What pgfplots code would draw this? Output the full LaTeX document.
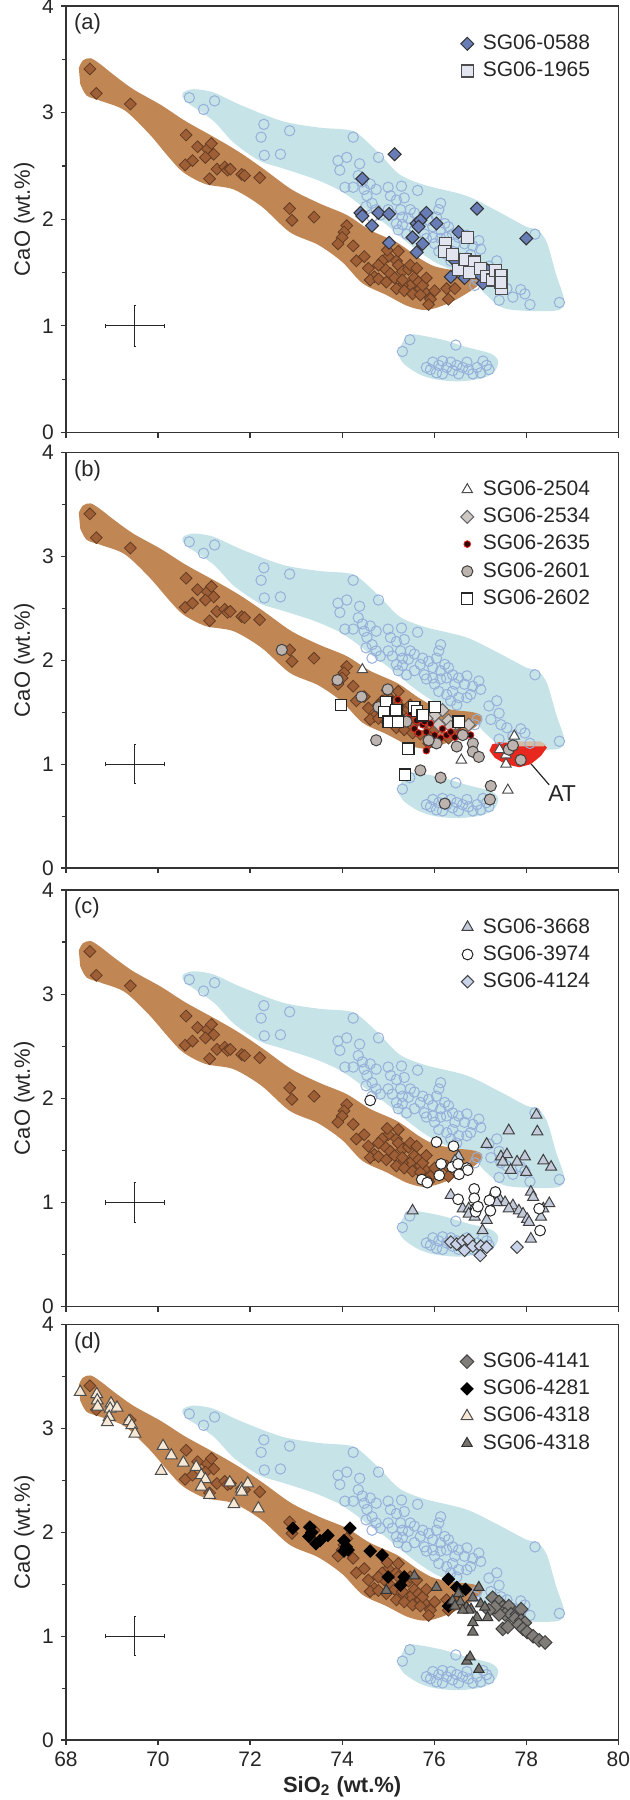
\documentclass[border=0pt]{standalone}
\usepackage{pgfplots}
\pgfplotsset{compat=1.18}
\usepackage{pgfplotstable}
\usepackage{fontspec}
\setmainfont{Liberation Sans}

\definecolor{bluefill}{RGB}{198,227,232}
\definecolor{blueedge}{RGB}{150,176,218}
\definecolor{brownfill}{RGB}{192,134,84}
\definecolor{browndia}{RGB}{158,94,54}
\definecolor{brownedge}{RGB}{100,60,35}
\definecolor{c0588}{RGB}{104,124,182}
\definecolor{c1965}{RGB}{226,229,240}
\definecolor{c2534}{RGB}{205,200,195}
\definecolor{c2635}{RGB}{45,10,8}
\definecolor{c2601}{RGB}{190,180,175}
\definecolor{c3668}{RGB}{195,202,218}
\definecolor{c4124}{RGB}{200,210,232}
\definecolor{c4141}{RGB}{128,124,120}
\definecolor{c4318a}{RGB}{246,232,212}
\definecolor{c4318b}{RGB}{118,114,110}
\definecolor{atred}{RGB}{232,40,30}
\definecolor{atbeige}{RGB}{212,188,165}

% ---------- background fields ----------
\pgfplotstableread{
x y
70.53 3.15
70.55 3.19
70.77 3.22
71.20 3.19
71.80 3.07
72.70 2.92
73.50 2.86
74.10 2.84
74.35 2.80
74.80 2.62
75.25 2.42
75.80 2.32
76.70 2.22
77.40 2.07
78.00 1.93
78.25 1.90
78.45 1.78
78.65 1.48
78.82 1.25
78.72 1.15
78.10 1.14
77.49 1.17
77.06 1.32
76.79 1.47
76.36 1.53
76.01 1.60
75.66 1.70
75.31 1.82
74.96 1.95
74.61 2.06
74.26 2.18
73.91 2.28
73.39 2.38
72.69 2.48
72.20 2.55
71.64 2.72
71.21 2.92
70.68 3.08
}\bluebig

\pgfplotstableread{
x y
75.22 0.77
75.40 0.90
75.57 0.92
76.18 0.87
76.71 0.80
77.23 0.74
77.39 0.67
77.32 0.58
77.06 0.51
76.53 0.48
76.01 0.50
75.66 0.55
75.35 0.64
75.24 0.71
}\bluesmall

\pgfplotstableread{
x y
68.28 3.42
68.37 3.49
68.54 3.51
68.76 3.45
69.02 3.36
69.46 3.22
70.07 3.07
70.60 2.92
71.30 2.75
71.80 2.62
72.30 2.47
72.90 2.28
73.50 2.15
74.10 2.04
74.60 1.90
75.20 1.78
75.66 1.64
76.00 1.56
76.45 1.52
76.84 1.50
77.04 1.46
76.93 1.37
76.45 1.24
76.05 1.17
75.75 1.15
75.40 1.19
74.96 1.29
74.44 1.40
74.00 1.60
73.48 1.76
72.86 1.88
72.25 2.12
71.64 2.28
71.03 2.33
70.55 2.44
70.24 2.58
69.81 2.80
69.28 3.02
68.76 3.11
68.45 3.16
68.31 3.27
}\brownpoly

\pgfplotstableread{
x y
70.68 3.14
70.99 3.03
71.23 3.11
72.30 2.89
72.24 2.77
72.86 2.83
72.31 2.60
72.66 2.61
74.24 2.77
73.91 2.55
74.10 2.58
73.95 2.46
74.38 2.52
74.79 2.58
74.35 2.41
74.06 2.30
74.24 2.30
74.44 2.35
74.61 2.33
74.74 2.28
74.48 2.28
74.54 2.22
74.65 2.15
74.52 2.12
74.74 2.09
74.65 2.02
74.83 2.04
75.00 2.30
75.05 2.22
75.29 2.31
75.64 2.27
75.18 2.18
75.27 2.09
75.35 2.20
75.48 2.09
75.00 2.09
75.09 2.04
75.18 1.96
75.31 2.02
75.44 2.01
75.57 2.06
75.75 2.02
75.70 1.96
75.88 1.99
75.97 1.93
76.14 2.15
76.10 2.09
76.05 2.02
76.23 1.96
76.14 1.90
76.31 1.93
76.40 1.86
76.27 1.83
76.53 1.83
76.71 1.85
76.45 1.77
76.66 1.77
76.84 1.75
76.97 1.80
77.01 1.72
76.01 1.77
76.10 1.70
76.27 1.67
76.40 1.70
76.53 1.64
76.71 1.64
76.79 1.67
75.79 1.86
75.57 1.90
75.40 1.86
75.22 1.90
75.83 1.82
75.97 1.83
76.14 1.82
75.31 1.95
77.19 1.56
77.36 1.61
77.41 1.49
77.23 1.43
77.45 1.38
77.41 1.24
77.71 1.27
77.58 1.35
77.88 1.34
77.97 1.30
78.08 1.20
78.19 1.86
78.72 1.22
76.88 1.38
76.93 1.43
76.36 1.61
76.49 1.57
75.31 0.76
75.47 0.87
76.47 0.82
75.83 0.61
75.97 0.66
76.10 0.63
76.18 0.67
76.27 0.61
76.36 0.66
76.40 0.58
76.49 0.63
76.53 0.55
76.62 0.61
76.71 0.66
76.75 0.59
76.84 0.55
76.93 0.61
77.01 0.56
77.06 0.67
77.14 0.63
76.05 0.56
76.18 0.55
77.19 0.59
75.92 0.59
}\bluepts

\pgfplotstableread{
x y
68.52 3.41
68.66 3.18
69.40 3.08
70.61 2.79
70.86 2.68
71.07 2.66
71.16 2.71
71.21 2.61
70.59 2.51
70.75 2.55
71.03 2.58
71.12 2.38
71.28 2.47
71.45 2.49
71.51 2.46
71.57 2.47
71.82 2.42
71.88 2.41
72.21 2.39
72.86 2.10
72.91 1.99
73.39 2.02
74.10 1.94
74.04 1.88
74.00 1.83
73.91 1.77
74.24 1.75
74.31 1.61
74.48 1.65
74.57 1.54
74.70 1.46
74.61 1.43
74.79 1.44
75.00 1.65
74.98 1.71
75.18 1.61
74.92 1.54
75.05 1.49
75.14 1.45
75.22 1.57
75.31 1.51
75.44 1.53
75.48 1.38
75.57 1.45
75.66 1.41
75.70 1.35
75.79 1.32
75.92 1.25
75.88 1.20
76.01 1.33
76.27 1.35
76.31 1.25
76.45 1.35
75.31 1.38
74.96 1.41
75.18 1.35
75.35 1.33
75.53 1.30
75.70 1.29
75.75 1.38
75.83 1.45
75.22 1.70
75.48 1.57
75.62 1.54
74.87 1.61
74.79 1.57
75.31 1.43
}\brownpts

% ---------- samples ----------
\pgfplotstableread{
x y
75.14 2.61
74.44 2.38
74.40 2.06
74.44 2.03
74.79 2.06
75.02 2.05
74.65 1.94
75.02 1.78
75.53 1.83
75.62 1.96
75.70 1.99
75.66 1.93
75.83 2.06
76.05 1.96
75.75 1.77
75.62 1.69
76.53 1.88
76.93 2.10
76.45 1.61
76.36 1.46
76.66 1.45
76.99 1.48
77.16 1.52
77.06 1.40
78.00 1.82
}\sA

\pgfplotstableread{
x y
76.73 1.83
76.24 1.77
76.22 1.70
76.40 1.67
76.53 1.53
76.67 1.62
76.88 1.60
76.76 1.50
77.00 1.54
77.14 1.46
77.27 1.43
77.33 1.52
77.45 1.47
77.46 1.35
77.45 1.41
}\sB

\pgfplotstableread{
x y
74.44 1.91
75.70 1.35
75.97 1.41
76.27 1.33
76.59 1.04
77.42 1.14
77.56 1.09
77.56 1.00
77.74 1.27
77.60 0.75
}\sC

\pgfplotstableread{
x y
76.18 1.52
76.01 1.47
76.31 1.42
76.49 1.39
76.75 1.38
76.36 1.36
76.10 1.38
75.83 1.44
}\sD

\pgfplotstableread{
x y
75.21 1.62
75.48 1.47
75.62 1.42
75.70 1.49
75.75 1.38
75.57 1.34
75.83 1.31
75.92 1.39
76.01 1.28
76.14 1.25
76.27 1.28
76.36 1.31
76.45 1.26
76.57 1.30
76.71 1.28
76.79 1.28
75.88 1.20
75.83 1.13
75.66 1.30
75.44 1.44
75.79 1.41
76.18 1.34
}\sE

\pgfplotstableread{
x y
72.69 2.10
73.90 1.81
74.42 1.65
74.99 1.72
74.79 1.55
74.74 1.23
75.70 0.94
76.14 0.87
76.23 0.62
77.23 0.79
77.21 0.66
76.84 1.20
76.84 1.12
76.97 1.07
76.49 1.17
76.05 1.20
76.62 1.28
75.88 1.23
77.62 1.14
77.88 1.04
77.71 1.18
75.40 1.41
}\sF

\pgfplotstableread{
x y
73.97 1.57
74.96 1.60
74.92 1.50
75.01 1.41
75.22 1.41
75.57 1.55
75.62 1.51
75.75 1.47
76.01 1.55
76.53 1.41
75.44 1.15
75.36 0.90
75.18 1.52
}\sG

\pgfplotstableread{
x y
78.22 1.84
77.62 1.69
78.24 1.68
77.14 1.56
77.97 1.44
77.45 1.44
77.58 1.46
77.49 1.39
77.80 1.39
78.37 1.40
77.66 1.31
78.00 1.29
78.54 1.34
76.53 1.44
76.45 1.40
75.53 0.92
76.36 1.07
76.62 0.94
76.75 0.94
76.75 0.89
76.88 0.86
77.14 0.83
77.05 0.73
77.27 1.07
77.41 1.04
77.54 1.00
77.71 0.97
77.84 0.92
77.93 0.89
78.02 0.84
78.06 0.81
78.10 1.10
78.15 1.05
78.37 0.94
78.32 0.86
78.50 0.99
78.10 0.65
77.62 0.94
77.36 1.00
}\sH

\pgfplotstableread{
x y
74.61 1.98
76.05 1.58
76.42 1.54
76.15 1.37
76.39 1.34
76.52 1.37
76.71 1.33
76.73 1.31
76.54 1.27
76.11 1.26
75.73 1.22
75.85 1.19
76.87 1.13
76.87 1.04
76.52 1.03
76.90 0.94
76.90 0.91
77.20 1.02
77.33 1.10
77.22 0.92
78.28 0.94
78.30 0.73
76.95 0.96
}\sI

\pgfplotstableread{
x y
76.36 0.62
76.49 0.60
76.62 0.63
76.75 0.64
76.66 0.54
76.84 0.58
77.01 0.58
77.14 0.57
77.00 0.49
77.80 0.57
}\sJ

\pgfplotstableread{
x y
77.27 1.37
77.41 1.33
77.49 1.28
77.62 1.29
77.54 1.21
77.67 1.21
77.41 1.21
77.49 1.07
77.60 1.09
77.80 1.21
77.89 1.26
77.76 1.17
77.89 1.15
77.97 1.13
77.84 1.11
77.93 1.07
78.02 1.04
78.15 1.00
78.28 0.96
78.41 0.94
77.32 1.28
77.19 1.25
}\sK

\pgfplotstableread{
x y
72.93 2.04
73.30 2.05
73.34 2.00
73.28 1.96
73.52 1.92
73.43 1.89
73.69 1.97
74.17 2.04
74.04 1.92
74.09 1.86
74.04 1.82
74.13 1.83
74.61 1.82
74.87 1.78
75.00 1.57
75.27 1.49
75.35 1.57
76.31 1.55
76.49 1.47
76.68 1.45
76.31 1.29
76.36 1.31
}\sL

\pgfplotstableread{
x y
68.31 3.35
68.67 3.33
68.68 3.27
68.69 3.21
68.98 3.24
68.96 3.19
69.11 3.20
68.94 3.11
68.90 3.06
69.37 3.07
69.43 3.03
69.50 2.95
70.11 2.83
70.29 2.74
70.55 2.67
70.83 2.63
70.94 2.55
71.03 2.51
70.07 2.59
70.94 2.44
71.12 2.36
71.56 2.48
71.81 2.42
71.95 2.47
71.82 2.39
71.65 2.27
72.18 2.23
}\sM

\pgfplotstableread{
x y
75.57 1.58
76.05 1.47
74.96 1.44
76.53 1.41
76.84 1.37
76.97 1.47
76.40 1.34
76.57 1.33
76.70 1.28
77.01 1.31
77.10 1.28
76.80 1.26
77.16 1.18
76.93 1.18
76.75 1.25
76.62 1.25
76.84 1.13
76.84 1.04
76.71 0.76
76.78 0.80
76.97 0.68
76.45 1.29
}\sN

\pgfplotsset{
  panel/.style={
    scale only axis, width=276.5pt,
    xmin=68, xmax=80, ymin=0, ymax=4,
    xtick={68,70,...,80}, ytick={0,1,2,3,4}, minor y tick num=1,
    tick align=outside, xtick pos=lower, ytick pos=left,
    major tick length=2.5pt, minor tick length=1.8pt,
    axis line style={line width=0.7pt, black!80},
    every tick/.style={black!80, line width=0.6pt},
    tick label style={font=\fontsize{10.5}{12}\selectfont, text=black!85},
    /pgf/number format/assume math mode=true,
    ylabel={CaO (wt.\%)}, ylabel shift=-3pt,
    label style={font=\fontsize{11}{13}\selectfont, text=black!85},
    legend cell align=left,
    legend style={draw=none, fill=none, at={(rel axis cs:0.955,0.94)}, anchor=north east,
      font=\fontsize{10.5}{12}\selectfont, row sep=1.8pt, column sep=3pt, inner sep=0pt,
      nodes={inner sep=1.5pt, text=black!85}},
  },
}

\newcommand{\bg}{%
  \addplot[forget plot, fill=bluefill, draw=none, smooth] table {\bluebig} -- cycle;
  \addplot[forget plot, fill=bluefill, draw=none, smooth] table {\bluesmall} -- cycle;
  \addplot[forget plot, fill=brownfill, draw=none, smooth] table {\brownpoly} -- cycle;
  \addplot[forget plot, only marks, mark=o, mark size=2.6pt, blueedge, mark options={line width=0.5pt}] table {\bluepts};
  \addplot[forget plot, only marks, mark=square*, mark size=2.1pt, mark options={rotate=45, fill=browndia, draw=brownedge, line width=0.4pt}] table {\brownpts};
  \addplot[forget plot, black!85, line width=0.5pt] coordinates {(68.85,1) (70.15,1)};
  \addplot[forget plot, black!85, line width=0.5pt] coordinates {(69.5,0.81) (69.5,1.19)};
  \addplot[forget plot, black!85, line width=0.5pt] coordinates {(68.85,0.98) (68.85,1.02)};
  \addplot[forget plot, black!85, line width=0.5pt] coordinates {(70.15,0.98) (70.15,1.02)};
  \addplot[forget plot, black!85, line width=0.5pt] coordinates {(69.47,0.81) (69.53,0.81)};
  \addplot[forget plot, black!85, line width=0.5pt] coordinates {(69.47,1.19) (69.53,1.19)};
}
\newcommand{\plabel}[1]{\node[anchor=north west, font=\fontsize{11}{13}\selectfont, text=black!85, inner sep=0pt] at (rel axis cs:0.014,0.982) {#1};}

\begin{document}
\begin{tikzpicture}
% (a)
\begin{axis}[panel, name=pa, at={(0,0)}, anchor=north west, height=213.5pt, xticklabels={}]
\bg
\addplot[only marks, mark=square*, mark size=2.3pt, mark options={rotate=45, fill=c0588, draw=black!80, line width=0.5pt}] table {\sA};
\addlegendentry{SG06-0588}
\addplot[only marks, mark=square*, mark size=3pt, mark options={fill=c1965, draw=black!70, line width=0.6pt}] table {\sB};
\addlegendentry{SG06-1965}
\plabel{(a)}
\end{axis}
% (b)
\begin{axis}[panel, name=pb, at={(0,-223.5pt)}, anchor=north west, height=208pt, xticklabels={}]
\bg
\addplot[forget plot, fill=atred, draw=none] coordinates {(77.20,1.13) (77.26,1.19) (77.40,1.21) (78.38,1.19) (78.45,1.16) (78.32,1.08) (78.10,1.00) (77.85,0.97) (77.55,1.00) (77.32,1.06)} -- cycle;
\addplot[forget plot, fill=atbeige, draw=none] coordinates {(77.70,1.19) (77.80,1.22) (78.30,1.22) (78.42,1.19) (78.38,1.17) (77.75,1.17)} -- cycle;
\addplot[only marks, mark=triangle*, mark size=3pt, mark options={fill=white, draw=black!70, line width=0.5pt}] table {\sC};
\addlegendentry{SG06-2504}
\addplot[only marks, mark=square*, mark size=2.3pt, mark options={rotate=45, fill=c2534, draw=black!60, line width=0.5pt}] table {\sD};
\addlegendentry{SG06-2534}
\addplot[only marks, mark=*, mark size=1.7pt, mark options={fill=c2635, draw=atred, line width=0.4pt}] table {\sE};
\addlegendentry{SG06-2635}
\addplot[only marks, mark=*, mark size=2.8pt, mark options={fill=c2601, draw=black!75, line width=0.5pt}] table {\sF};
\addlegendentry{SG06-2601}
\addplot[only marks, mark=square*, mark size=2.8pt, mark options={fill=white, draw=black!85, line width=0.6pt}] table {\sG};
\addlegendentry{SG06-2602}
\draw[black!85, line width=0.6pt] (axis cs:78.11,1.00) -- (axis cs:78.50,0.80);
\node[font=\fontsize{11.5}{13}\selectfont, text=black!85] at (axis cs:78.78,0.72) {AT};
\plabel{(b)}
\end{axis}
% (c)
\begin{axis}[panel, name=pc, at={(0,-442.5pt)}, anchor=north west, height=208.5pt, xticklabels={}]
\bg
\addplot[only marks, mark=triangle*, mark size=3.2pt, mark options={fill=c3668, draw=black!75, line width=0.5pt}] table {\sH};
\addlegendentry{SG06-3668}
\addplot[only marks, mark=*, mark size=2.7pt, mark options={fill=white, draw=black!85, line width=0.5pt}] table {\sI};
\addlegendentry{SG06-3974}
\addplot[only marks, mark=square*, mark size=2.2pt, mark options={rotate=45, fill=c4124, draw=black!75, line width=0.5pt}] table {\sJ};
\addlegendentry{SG06-4124}
\plabel{(c)}
\end{axis}
% (d)
\begin{axis}[panel, name=pd, at={(0,-660pt)}, anchor=north west, height=208pt,
  xlabel={\textbf{SiO\textsubscript{2} (wt.\%)}}, xlabel style={font=\fontsize{11}{13}\selectfont, yshift=2pt}]
\bg
\addplot[only marks, mark=square*, mark size=2.4pt, mark options={rotate=45, fill=c4141, draw=black!75, line width=0.5pt}] table {\sK};
\addlegendentry{SG06-4141}
\addplot[only marks, mark=square*, mark size=2.2pt, mark options={rotate=45, fill=black, draw=black, line width=0.4pt}] table {\sL};
\addlegendentry{SG06-4281}
\addplot[only marks, mark=triangle*, mark size=3.4pt, mark options={fill=c4318a, draw=black!70, line width=0.5pt}] table {\sM};
\addlegendentry{SG06-4318}
\addplot[only marks, mark=triangle*, mark size=3pt, mark options={fill=c4318b, draw=black!80, line width=0.5pt}] table {\sN};
\addlegendentry{SG06-4318}
\plabel{(d)}
\end{axis}
\pgfresetboundingbox
\path ([xshift=-33pt, yshift=3pt]pa.north west) rectangle ([xshift=5.5pt, yshift=-30pt]pd.south east);
\end{tikzpicture}
\end{document}
